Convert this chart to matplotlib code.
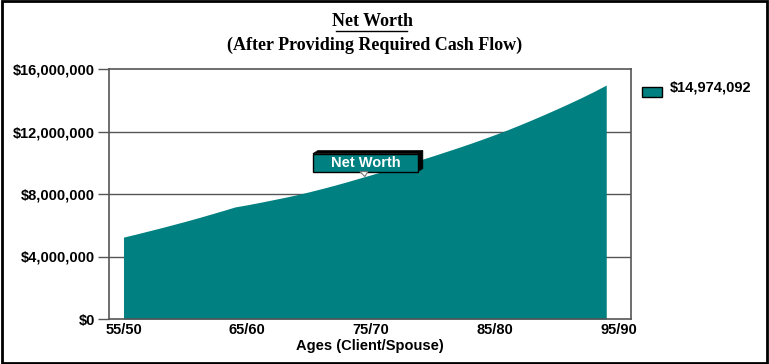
# ============================================================
# Section 1. Setup and Imports
# ============================================================

import matplotlib

matplotlib.use("Agg")

import matplotlib.pyplot as plt
import matplotlib.patches as mpatches
import matplotlib.transforms as mtransforms
import numpy as np
from matplotlib.ticker import FuncFormatter

# ============================================================
# Section 2. Data
# ============================================================

# Client ages, one point per year (55 .. 94).
ages = list(range(55, 95))

# Net worth in millions of dollars for each age.
net_worth_m = [
    5.24, 5.43, 5.63, 5.83, 6.04, 6.25, 6.47, 6.70, 6.93, 7.17,
    7.31, 7.46, 7.62, 7.78, 7.95, 8.14, 8.34, 8.55, 8.77, 9.00,
    9.23, 9.46, 9.70, 9.94, 10.19, 10.44, 10.70, 10.96, 11.23, 11.51,
    11.80, 12.10, 12.42, 12.75, 13.09, 13.44, 13.80, 14.17, 14.56, 14.974092,
]

# Tick positions and labels on the age axis.
tick_ages = [55, 65, 75, 85, 95]
tick_labels = ["55/50", "65/60", "75/70", "85/80", "95/90"]

# Y ticks in dollars.
y_ticks = [0, 4_000_000, 8_000_000, 12_000_000, 16_000_000]

legend_label = "$14,974,092"
callout_label = "Net Worth"
callout_age = 74.5

TEAL = "#008080"

# ============================================================
# Section 3. Figure
# ============================================================

values = np.array(net_worth_m) * 1_000_000

fig = plt.figure(figsize=(7.69, 3.64), dpi=100)
ax = fig.add_axes([109 / 769, 1 - 319 / 364, 522 / 769, 250 / 364])

# Grid lines first so the area covers them.
for yv in y_ticks[1:-1]:
    ax.axhline(yv, color="#555555", linewidth=1.0, zorder=1)

# The filled net worth area.
ax.fill_between(ages, values, 0, color=TEAL, linewidth=0, zorder=2)

ax.set_xlim(53.83, 96.0)
ax.set_ylim(0, 16_000_000)

ax.set_xticks(tick_ages)
ax.set_xticklabels(tick_labels)
ax.set_yticks(y_ticks)
ax.yaxis.set_major_formatter(FuncFormatter(lambda v, _: f"${v:,.0f}"))

for spine in ax.spines.values():
    spine.set_color("#555555")
    spine.set_linewidth(1.2)

ax.tick_params(axis="y", length=8, width=1.0, color="#555555", pad=2)
ax.tick_params(axis="x", length=0, pad=3)
for lab in ax.get_xticklabels() + ax.get_yticklabels():
    lab.set_fontfamily("Liberation Sans")
    lab.set_fontweight("bold")
    lab.set_fontsize(10.5)

ax.set_xlabel(
    "Ages (Client/Spouse)",
    fontfamily="Liberation Sans",
    fontweight="bold",
    fontsize=10.5,
    labelpad=1,
)

# Titles (serif, bold, first one underlined).
fig.text(
    372 / 769, 1 - 21 / 364, "Net Worth",
    ha="center", va="center",
    fontfamily="Liberation Serif", fontweight="bold", fontsize=13,
)
fig.text(
    375 / 769, 1 - 45 / 364, "(After Providing Required Cash Flow)",
    ha="center", va="center",
    fontfamily="Liberation Serif", fontweight="bold", fontsize=13,
)
# Underline below "Net Worth".
fig.add_artist(
    plt.Line2D([336 / 769, 407 / 769], [1 - 30.5 / 364, 1 - 30.5 / 364],
               color="black", linewidth=1.0)
)

# ============================================================
# Section 4. Legend (one swatch with the final value)
# ============================================================

fig.add_artist(
    mpatches.Rectangle(
        (642 / 769, 1 - 97 / 364), 20 / 769, 10 / 364,
        facecolor=TEAL, edgecolor="black", linewidth=1.0,
        transform=fig.transFigure,
    )
)
fig.text(
    670 / 769, 1 - 88 / 364, legend_label,
    ha="left", va="center",
    fontfamily="Liberation Sans", fontweight="bold", fontsize=10.5,
)

# ============================================================
# Section 5. 3D callout box pointing at the curve
# ============================================================

tip_value = np.interp(callout_age, ages, values)
# Coordinates below are offsets in inches from the anchor point on the curve.
trans = fig.dpi_scale_trans + mtransforms.ScaledTranslation(
    callout_age, tip_value, ax.transData
)


def px(x, y):
    return (x / 100, y / 100)


left, right, bottom, top = -52, 53, 5, 23
depth_x, depth_y = 5, 3

top_face = [px(left, top), px(left + depth_x, top + depth_y),
            px(right + depth_x, top + depth_y), px(right, top)]
right_face = [px(right, top), px(right + depth_x, top + depth_y),
              px(right + depth_x, bottom + depth_y), px(right, bottom)]
for poly in (top_face, right_face):
    ax.add_patch(mpatches.Polygon(poly, closed=True, facecolor="black",
                                  edgecolor="black", linewidth=0.5,
                                  transform=trans, zorder=5, clip_on=False))

ax.add_patch(mpatches.Rectangle(
    px(left, bottom), (right - left) / 100, (top - bottom) / 100,
    facecolor=TEAL, edgecolor="black", linewidth=1.0,
    transform=trans, zorder=6, clip_on=False,
))
# Small pointer wedge under the box.
ax.add_patch(mpatches.Polygon(
    [px(-5, bottom), px(3, bottom), px(0, 0)], closed=True,
    facecolor="white", edgecolor="#777777", linewidth=0.8,
    transform=trans, zorder=6, clip_on=False,
))
ax.text(
    (left + right) / 200, (bottom + top) / 200, callout_label,
    ha="center", va="center", color="white",
    fontfamily="Liberation Sans", fontweight="bold", fontsize=10.5,
    transform=trans, zorder=7,
)

# Outer border around the whole image.
fig.add_artist(
    mpatches.Rectangle((0.002, 0.003), 0.996, 0.994, fill=False,
                       edgecolor="black", linewidth=2.0,
                       transform=fig.transFigure)
)

fig.savefig("out.png", dpi=100)
plt.close(fig)
